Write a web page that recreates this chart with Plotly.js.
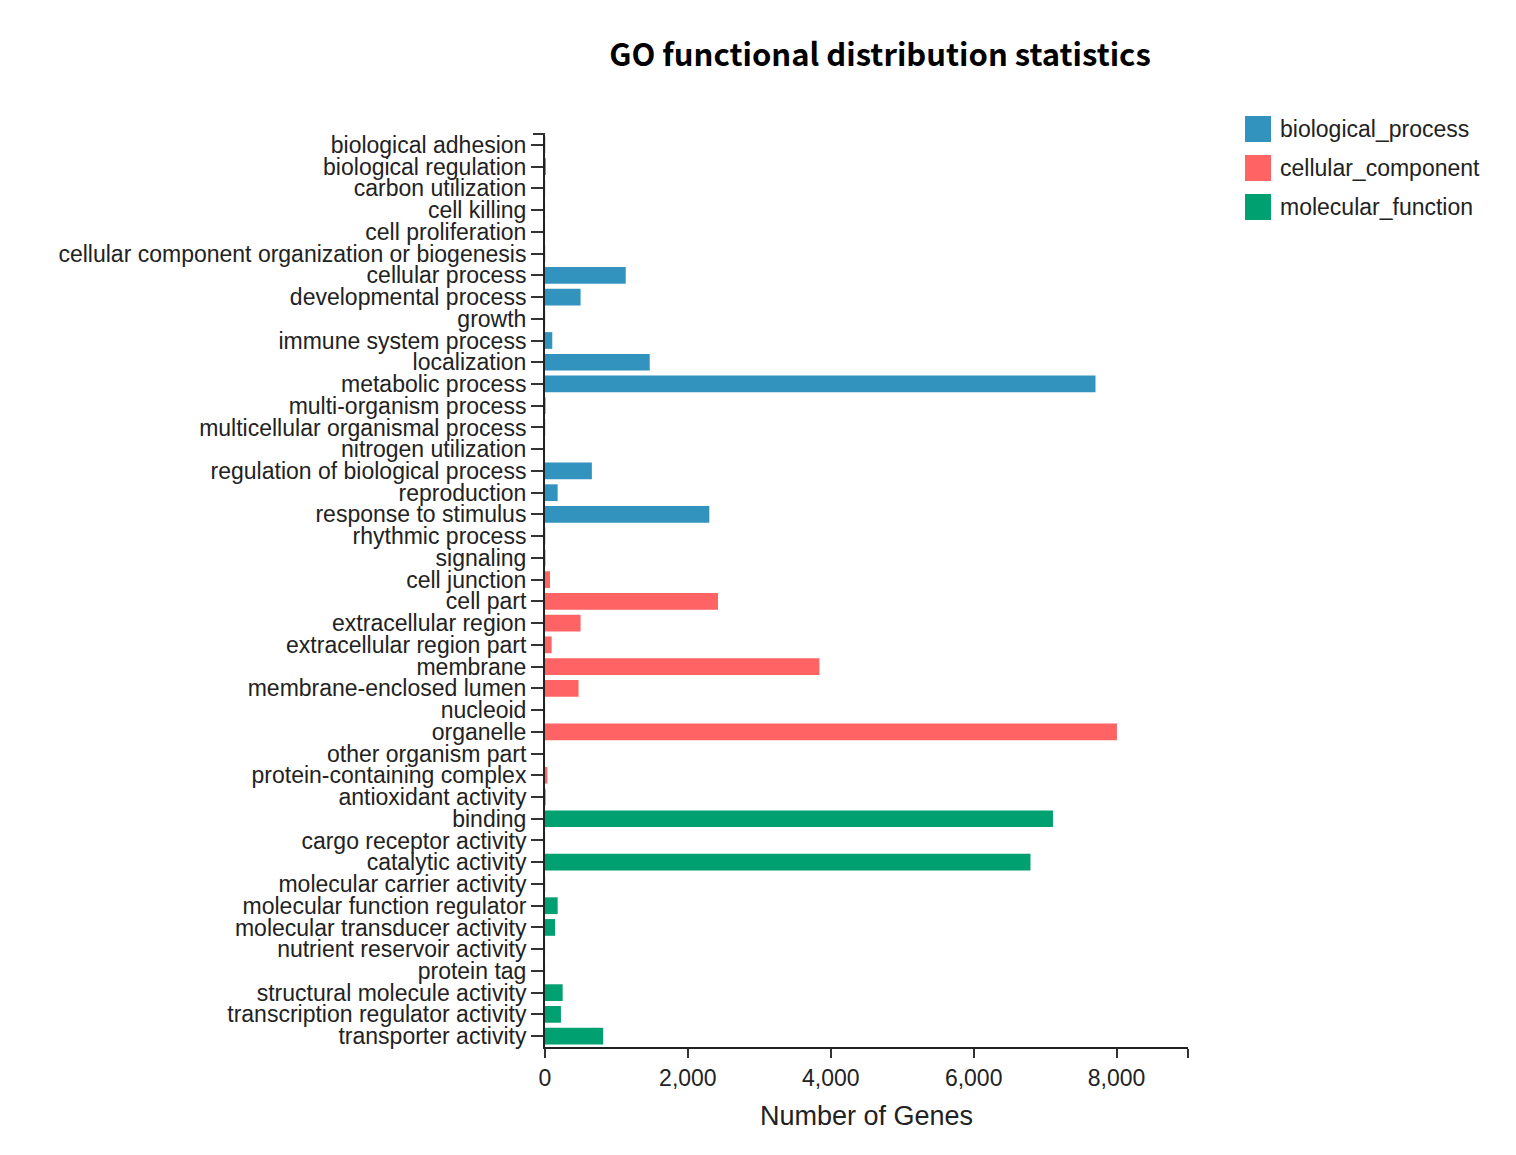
<!DOCTYPE html>
<html>
<head>
<meta charset="utf-8">
<script src="https://cdn.plot.ly/plotly-3.0.1.min.js"></script>
<style>html,body{margin:0;padding:0;background:#fff;}#chart{width:1516px;height:1155px;}</style>
</head>
<body>
<div id="chart"></div>
<script>
// ---- data ----
const bpTerms = ["biological adhesion","biological regulation","carbon utilization","cell killing","cell proliferation","cellular component organization or biogenesis","cellular process","developmental process","growth","immune system process","localization","metabolic process","multi-organism process","multicellular organismal process","nitrogen utilization","regulation of biological process","reproduction","response to stimulus","rhythmic process","signaling"];
const bpCounts = [4,12,2,1,1,3,1130,498,2,102,1466,7705,8,3,1,656,177,2300,4,6];

const ccTerms = ["cell junction","cell part","extracellular region","extracellular region part","membrane","membrane-enclosed lumen","nucleoid","organelle","other organism part","protein-containing complex"];
const ccCounts = [70,2421,498,93,3841,470,2,8005,1,33];

const mfTerms = ["antioxidant activity","binding","cargo receptor activity","catalytic activity","molecular carrier activity","molecular function regulator","molecular transducer activity","nutrient reservoir activity","protein tag","structural molecule activity","transcription regulator activity","transporter activity"];
const mfCounts = [8,7110,1,6795,2,177,140,1,1,247,223,814];

const groupNames = ["biological_process","cellular_component","molecular_function"];
const groupColors = ["#3193BE","#FF6363","#00A070"];

const xTickVals = [0,2000,4000,6000,8000,9000];
const xTickText = ["0","2,000","4,000","6,000","8,000",""];

const titleText = "GO functional distribution statistics";
const xTitleText = "Number of Genes";

// ---- build ----
const allTerms = bpTerms.concat(ccTerms, mfTerms);
const groups = [[bpTerms,bpCounts],[ccTerms,ccCounts],[mfTerms,mfCounts]];
const traces = groups.map((g,i)=>({
  type:'bar', orientation:'h', x:g[1], y:g[0], name:groupNames[i],
  marker:{color:groupColors[i]}, width:0.77, showlegend:false,
  hovertemplate:'%{y}: %{x}<extra></extra>'
}));

const shapes = [];
const annotations = [];
// top outer tick of y axis
shapes.push({type:'line', xref:'paper', yref:'paper', x0:0, x1:-12/643, y0:1, y1:1, line:{color:'#333', width:2}});
// custom legend
const legX = 1245, legY0 = 129, legStep = 39, sq = 26;
groupNames.forEach((n,i)=>{
  const cy = legY0 + i*legStep;
  shapes.push({type:'rect', xref:'paper', yref:'paper',
    x0:(legX-545)/643, x1:(legX+sq-545)/643,
    y0:(1047-(cy-sq/2))/913, y1:(1047-(cy+sq/2))/913,
    fillcolor:groupColors[i], line:{width:0}});
  annotations.push({xref:'paper', yref:'paper', x:(1278-545)/643, y:(1047-cy)/913,
    xanchor:'left', yanchor:'middle', text:n, showarrow:false,
    font:{family:'Liberation Sans, Arial, sans-serif', size:23, color:'#222'}});
});

const layout = {
  width:1516, height:1155,
  margin:{l:545, r:328, t:134, b:108, pad:0},
  paper_bgcolor:'#fff', plot_bgcolor:'#fff',
  barmode:'overlay',
  title:{text:titleText, xref:'container', yref:'container', x:880/1516, xanchor:'center', y:1-55/1155, yanchor:'middle',
    font:{family:'Noto Sans CJK SC, Noto Sans, sans-serif', size:31, color:'#000', weight:'bold'}},
  xaxis:{range:[0,9000], tickmode:'array', tickvals:xTickVals, ticktext:xTickText, ticks:'outside', ticklen:9, tickwidth:2, tickcolor:'#333',
    showline:true, linecolor:'#222', linewidth:2, showgrid:false, zeroline:false, fixedrange:true,
    tickfont:{family:'Liberation Sans, Arial, sans-serif', size:23, color:'#222'},
    title:{text:xTitleText, standoff:17, font:{family:'Liberation Sans, Arial, sans-serif', size:27, color:'#222'}}},
  yaxis:{type:'category', categoryorder:'array', categoryarray:allTerms, range:[allTerms.length-0.5,-0.5],
    tickmode:'array', tickvals:allTerms, ticktext:allTerms,
    ticks:'outside', ticklen:12, tickwidth:2, tickcolor:'#333', showline:true, linecolor:'#222', linewidth:2,
    showgrid:false, zeroline:false, automargin:false, fixedrange:true,
    tickfont:{family:'Liberation Sans, Arial, sans-serif', size:23, color:'#222'}},
  shapes:shapes, annotations:annotations, showlegend:false
};
Plotly.newPlot('chart', traces, layout, {displayModeBar:false, staticPlot:true});
</script>
</body>
</html>
